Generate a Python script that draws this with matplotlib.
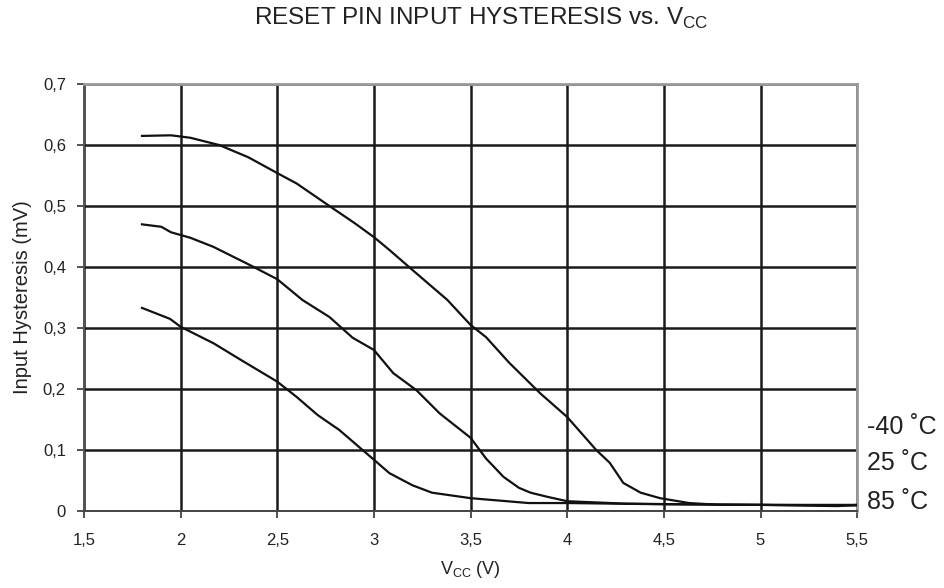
import matplotlib
matplotlib.use("Agg")
import matplotlib.pyplot as plt
from matplotlib.ticker import FuncFormatter

plt.rcParams['font.family'] = ['Liberation Sans', 'DejaVu Sans']
plt.rcParams['mathtext.fontset'] = 'custom'
plt.rcParams['mathtext.rm'] = 'Liberation Sans'

# hysteresis curves, mV vs Vcc
vcc_m40 = [1.8, 1.95, 2.05, 2.2, 2.35, 2.5, 2.6, 2.77, 2.9, 3.0, 3.08, 3.2, 3.38,
           3.5, 3.58, 3.7, 3.86, 4.0, 4.15, 4.22, 4.29, 4.38, 4.48, 4.63, 4.79,
           5.0, 5.2, 5.4, 5.5]
hyst_m40 = [0.615, 0.616, 0.612, 0.600, 0.580, 0.554, 0.537, 0.500, 0.472, 0.449,
            0.428, 0.395, 0.346, 0.305, 0.285, 0.243, 0.193, 0.154, 0.100, 0.079,
            0.046, 0.030, 0.021, 0.013, 0.010, 0.010, 0.009, 0.008, 0.010]

vcc_25 = [1.8, 1.9, 1.95, 2.05, 2.17, 2.36, 2.5, 2.63, 2.77, 2.89, 3.0, 3.1,
          3.22, 3.34, 3.5, 3.58, 3.67, 3.75, 3.81, 3.9, 4.0, 4.3, 4.6, 5.0, 5.5]
hyst_25 = [0.470, 0.466, 0.457, 0.448, 0.433, 0.403, 0.380, 0.346, 0.318, 0.284,
           0.264, 0.226, 0.198, 0.160, 0.120, 0.086, 0.056, 0.038, 0.030, 0.023,
           0.016, 0.012, 0.011, 0.010, 0.010]

vcc_85 = [1.8, 1.945, 2.0, 2.17, 2.31, 2.5, 2.6, 2.71, 2.82, 2.93, 3.0, 3.08,
          3.2, 3.3, 3.5, 3.8, 4.0, 4.5, 5.0, 5.5]
hyst_85 = [0.333, 0.315, 0.302, 0.275, 0.248, 0.212, 0.187, 0.157, 0.133, 0.103,
           0.084, 0.062, 0.042, 0.030, 0.021, 0.013, 0.013, 0.011, 0.010, 0.009]

curve_labels = ["-40 \u02daC", "25 \u02daC", "85 \u02daC"]
label_levels = [0.138, 0.078, 0.014]

x_ticks = [1.5, 2, 2.5, 3, 3.5, 4, 4.5, 5, 5.5]
y_ticks = [0, 0.1, 0.2, 0.3, 0.4, 0.5, 0.6, 0.7]


def comma(v, pos):
    s = f"{v:g}"
    return s.replace(".", ",")


fig = plt.figure(figsize=(9.44, 5.88), dpi=100)
ax = fig.add_axes([0.089, 0.131, 0.819, 0.726])

for xs, ys in [(vcc_m40, hyst_m40), (vcc_25, hyst_25), (vcc_85, hyst_85)]:
    ax.plot(xs, ys, color="#111111", lw=1.6, zorder=3)

ax.set_xlim(1.5, 5.5)
ax.set_ylim(0, 0.7)
ax.set_xticks(x_ticks)
ax.set_yticks(y_ticks)
ax.xaxis.set_major_formatter(FuncFormatter(comma))
ax.yaxis.set_major_formatter(FuncFormatter(comma))
ax.grid(True, color="#1a1a1a", lw=1.8)
ax.set_axisbelow(True)
ax.tick_params(direction="out", length=5, width=1.2, color="#333333",
               labelsize=12, labelcolor="#222222")
ax.tick_params(axis="x", pad=11)
ax.tick_params(axis="y", pad=8)

for side in ["top", "right"]:
    ax.spines[side].set_color("#9a9a9a")
    ax.spines[side].set_linewidth(2)
ax.spines["left"].set_color("#555555")
ax.spines["left"].set_linewidth(1.4)
ax.spines["bottom"].set_color("#444444")
ax.spines["bottom"].set_linewidth(1.4)

for text, lvl in zip(curve_labels, label_levels):
    ax.text(1.013, lvl, text, transform=ax.get_yaxis_transform(),
            fontsize=18, color="#222222", va="center", ha="left")

ax.set_xlabel("V$_{\\mathrm{CC}}$ (V)", fontsize=13, color="#222222", labelpad=8)
ax.set_ylabel("Input Hysteresis (mV)", fontsize=14.5, color="#222222", labelpad=8)
fig.text(0.51, 0.968, "RESET PIN INPUT HYSTERESIS vs. V$_{\\mathrm{CC}}$",
         ha="center", va="center", fontsize=17.5, color="#222222")

fig.savefig("out.png", dpi=100)
